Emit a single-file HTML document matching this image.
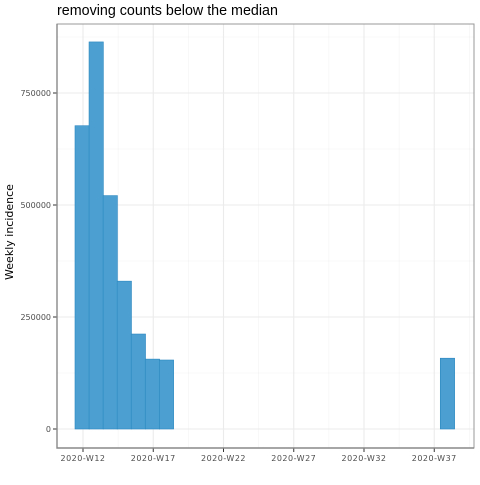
<!DOCTYPE html>
<html><head><meta charset="utf-8"><style>
body{margin:0;background:#fff;font-family:"Liberation Sans","DejaVu Sans",sans-serif}
</style></head><body>
<svg id="c" width="480" height="480" xmlns="http://www.w3.org/2000/svg">
<text x="57" y="15" font-size="14.3" fill="#000">removing counts below the median</text>
<text transform="translate(13,232) rotate(-90)" text-anchor="middle" font-size="11" font-family="DejaVu Sans, sans-serif" fill="#000">Weekly incidence</text>
<g id="grid"></g><g id="bars"></g><g id="axes"></g>
</svg>
<script>
const weeks=[12,13,14,15,16,17,18,38];
const counts=[677000,864000,521000,330000,212000,156000,154000,158000];
const xTicks=[12,17,22,27,32,37];
const xTickLabels=["2020-W12","2020-W17","2020-W22","2020-W27","2020-W32","2020-W37"];
const yTicks=[0,250000,500000,750000];
const yTickLabels=["0","250000","500000","750000"];
const L=57,R=474,T=24,B=448;
const x=w=>83+(w-12)*14.05;
const y=v=>429-v/250000*112;
const NS="http://www.w3.org/2000/svg";
function mk(p,t,a){const e=document.createElementNS(NS,t);for(const k in a)e.setAttribute(k,a[k]);p.appendChild(e);return e;}
const g=document.getElementById('grid'),b=document.getElementById('bars'),ax=document.getElementById('axes');
mk(g,'rect',{x:L,y:T,width:R-L,height:B-T,fill:'#fff'});
for(let i=0;i<yTicks.length;i++){const v=yTicks[i]+125000;if(y(v)>T){const l=mk(g,'line',{x1:L,x2:R,y1:y(v),y2:y(v),stroke:'#f2f2f2','stroke-width':0.6});}}
for(let i=0;i<xTicks.length;i++){const w=xTicks[i]+2.5;if(x(w)<R){const l=mk(g,'line',{x1:x(w),x2:x(w),y1:T,y2:B,stroke:'#f2f2f2','stroke-width':0.6});}}
yTicks.forEach((v,i)=>{const l=mk(g,'line',{x1:L,x2:R,y1:y(v),y2:y(v),stroke:'#ebebeb','stroke-width':1.1});
const tk=mk(ax,'line',{x1:L-4,x2:L,y1:y(v),y2:y(v),stroke:'#333','stroke-width':1});
const t=mk(ax,'text',{x:L-6,y:y(v)+3,'text-anchor':'end','font-size':'8','font-family':'DejaVu Sans, sans-serif',fill:'#4d4d4d'});t.textContent=yTickLabels[i];});
xTicks.forEach((w,i)=>{const l=mk(g,'line',{x1:x(w),x2:x(w),y1:T,y2:B,stroke:'#ebebeb','stroke-width':1.1});
const tk=mk(ax,'line',{x1:x(w),x2:x(w),y1:B,y2:B+4,stroke:'#333','stroke-width':1});
const t=mk(ax,'text',{x:x(w),y:B+13,'text-anchor':'middle','font-size':'8','font-family':'DejaVu Sans, sans-serif',fill:'#4d4d4d','letter-spacing':'0.5'});t.textContent=xTickLabels[i];});
weeks.forEach((w,i)=>{const x0=x(w-0.57),x1=x(w+0.45);const r=mk(b,'rect',{x:x0,y:y(counts[i]),width:x1-x0,height:y(0)-y(counts[i]),fill:'#4ba0d1',stroke:'#2a86bf','stroke-width':0.6});});
const br=mk(ax,'rect',{x:L,y:T,width:R-L,height:B-T,fill:'none',stroke:'#999','stroke-width':1});
const la=mk(ax,'path',{d:`M${L},${T}V${B}H${R}`,fill:'none',stroke:'#888','stroke-width':1.4});
</script>
</body></html>
